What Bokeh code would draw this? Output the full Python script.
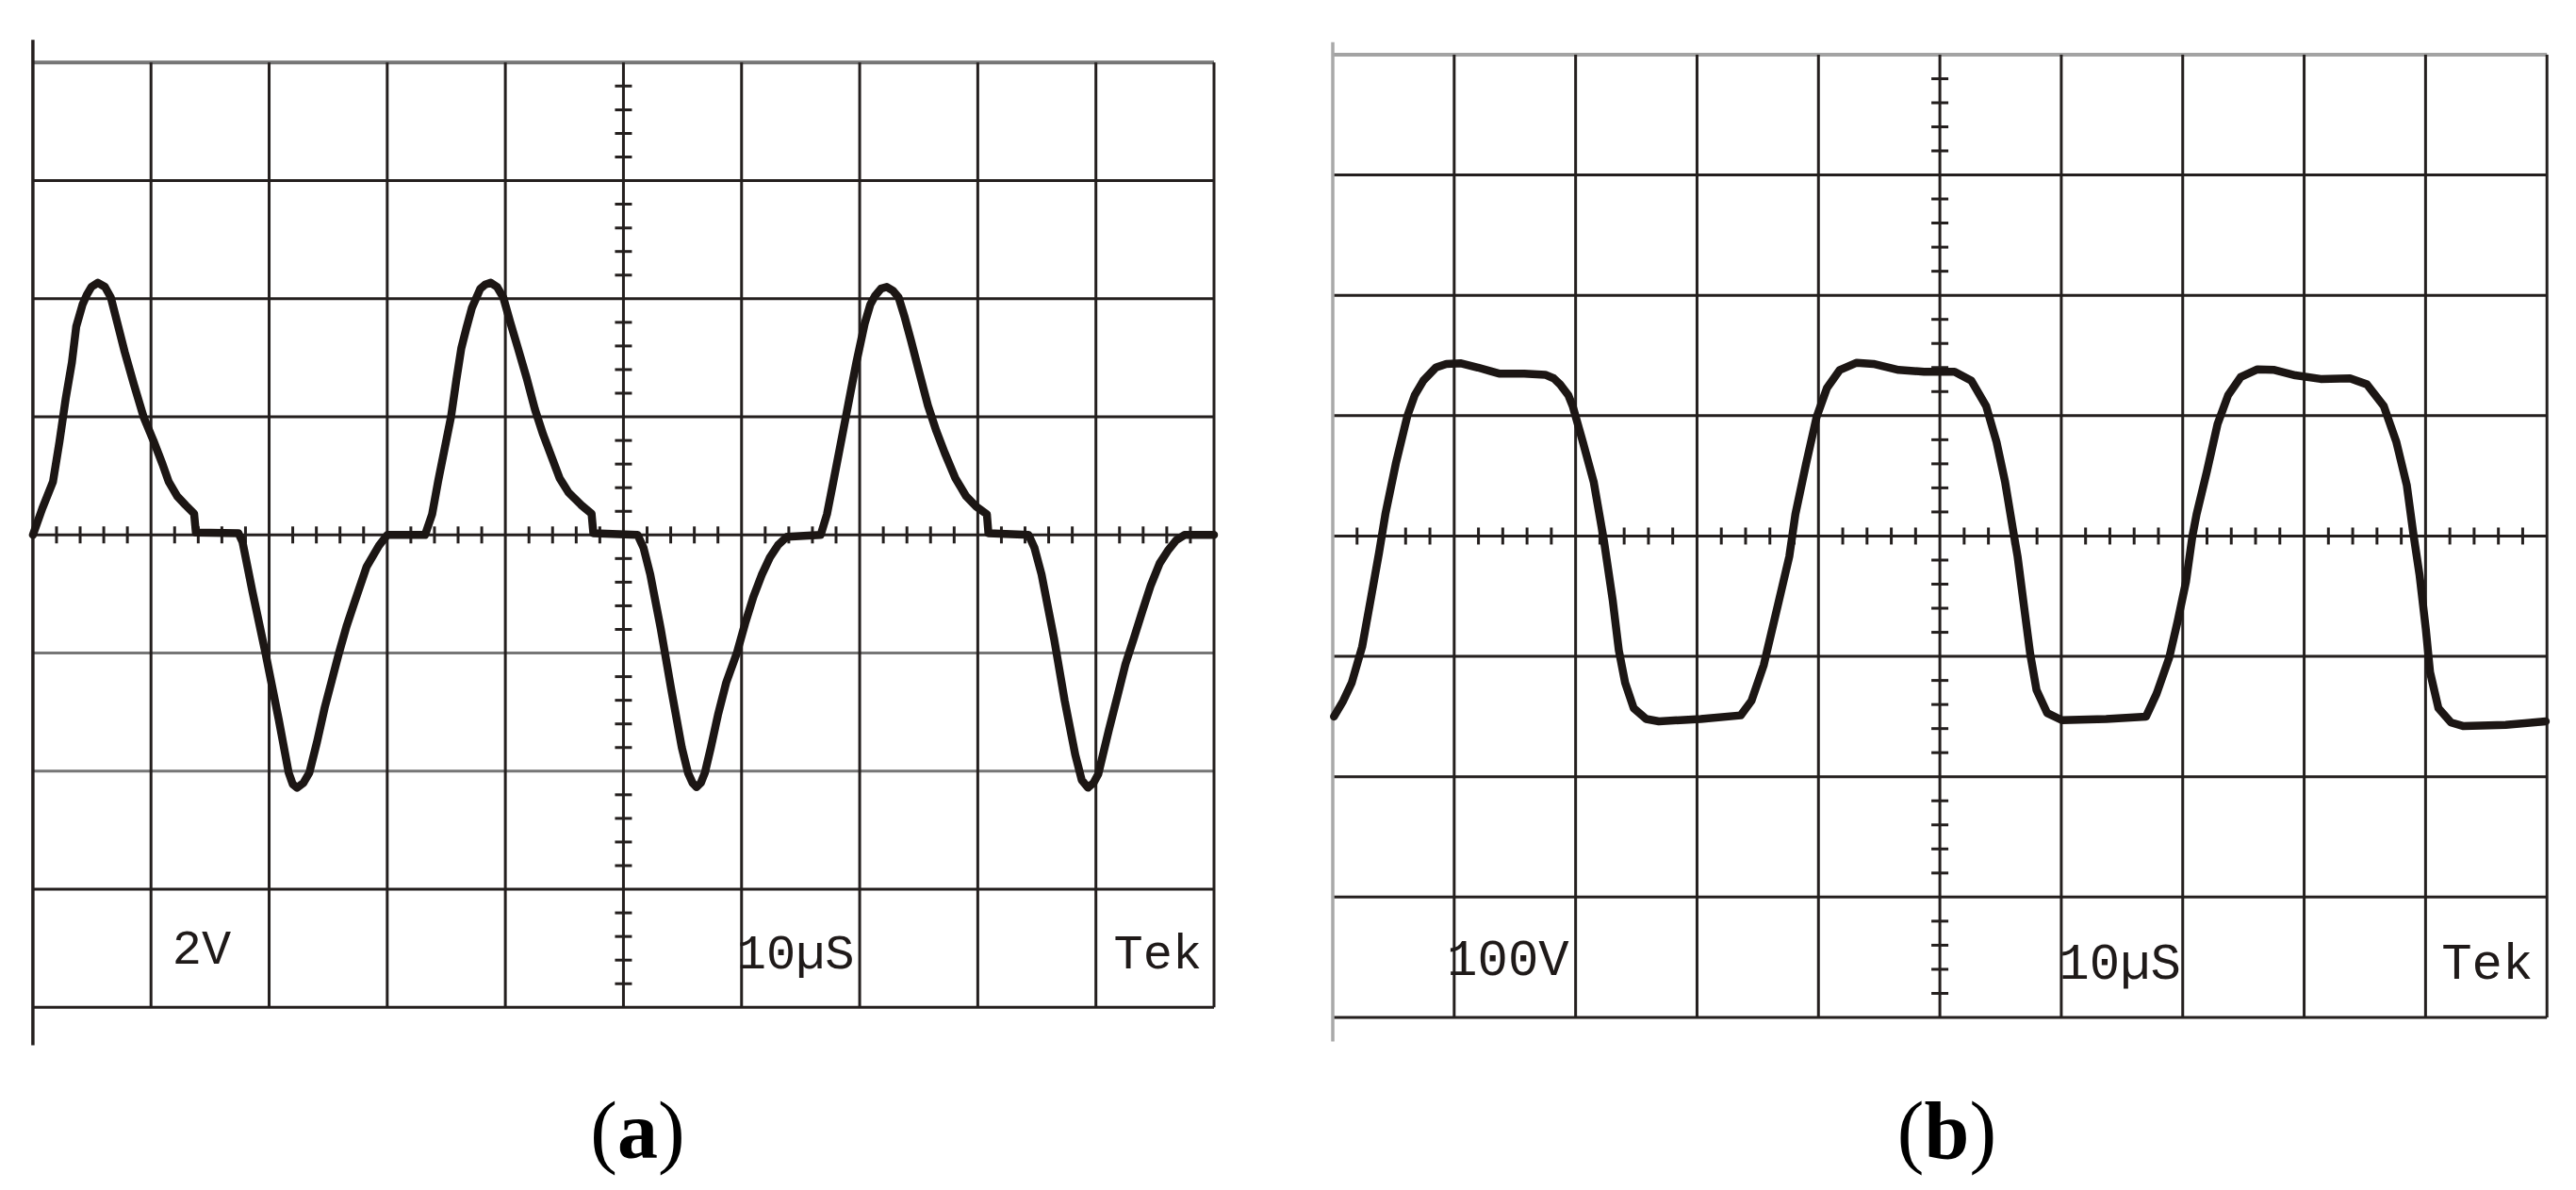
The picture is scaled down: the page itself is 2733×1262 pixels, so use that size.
import math
from bokeh.plotting import figure
from bokeh.layouts import row
from bokeh.models import Range1d
from bokeh.core.properties import value
from bokeh.embed import file_html
from bokeh.resources import INLINE

# ---------------- data ----------------
# panel (a): 2 V/div, 10 us/div  (time in us, voltage in V)
t_a = [0.0, 0.8, 1.7, 2.25, 2.78, 3.3, 3.67, 4.2, 4.6, 4.95, 5.5, 6.1, 6.6, 7.2, 7.77, 8.55,
       9.37, 10.2, 10.97, 11.5, 12.2, 12.95, 13.65, 13.8, 17.4, 17.75, 18.6, 19.7, 20.8, 21.66,
       22.0, 22.37, 22.9, 23.4, 24.05, 24.7, 25.3, 25.9, 26.55, 27.2, 28.25, 29.3, 30.0, 33.2,
       33.8, 34.3, 34.85, 35.4, 35.85, 36.27, 36.7, 37.16, 37.88, 38.3, 38.76, 39.3, 39.83, 40.43,
       41.07, 41.8, 42.5, 43.2, 43.9, 44.6, 45.35, 46.4, 47.3, 47.45, 51.2, 51.7, 52.27, 53.15,
       54.05, 54.94, 55.47, 55.85, 56.19, 56.55, 56.89, 57.4, 58.0, 58.7, 59.6, 60.3, 61.0, 61.7,
       62.4, 63.1, 63.85, 66.7,
       67.23, 67.77, 68.3, 68.83, 69.3, 69.72, 70.44, 70.9, 71.3, 71.8, 72.3, 72.8, 73.3, 73.82,
       74.35, 75.06, 75.78, 76.49, 77.2, 78.1, 79.0, 79.87, 80.77, 80.9, 84.3, 84.8, 85.4, 86.47,
       87.36, 88.25, 88.8, 89.33, 89.8, 90.2, 91.1, 91.8, 92.5, 93.23, 93.95, 94.65, 95.4, 96.08,
       96.8, 97.5, 100.0]
v_a = [0.0, 0.45, 0.9, 1.58, 2.31, 2.92, 3.53, 3.9, 4.08, 4.2, 4.27, 4.2, 4.02, 3.55, 3.1, 2.55,
       2.0, 1.6, 1.2, 0.9, 0.66, 0.5, 0.36, 0.04, 0.03, -0.12, -0.97, -2.01, -3.11, -4.03,
       -4.22, -4.28, -4.2, -4.03, -3.51, -2.93, -2.47, -2.01, -1.55, -1.16, -0.54, -0.18, 0.0, 0.0,
       0.35, 0.9, 1.45, 2.0, 2.62, 3.16, 3.5, 3.84, 4.17, 4.24, 4.27, 4.2, 4.02, 3.59,
       3.16, 2.66, 2.13, 1.7, 1.33, 0.96, 0.72, 0.51, 0.36, 0.03, 0.0, -0.22, -0.67, -1.58,
       -2.62, -3.6, -4.03, -4.2, -4.27, -4.2, -4.03, -3.6, -3.05, -2.5, -2.0, -1.5, -1.05, -0.68,
       -0.38, -0.17, -0.03, 0.0,
       0.35, 0.9, 1.45, 2.0, 2.49, 2.92, 3.59, 3.9, 4.05, 4.17, 4.2, 4.14, 4.02, 3.68,
       3.29, 2.74, 2.19, 1.76, 1.39, 0.96, 0.66, 0.48, 0.35, 0.03, 0.0, -0.22, -0.67, -1.77,
       -2.81, -3.72, -4.15, -4.28, -4.2, -4.05, -3.3, -2.75, -2.19, -1.74, -1.28, -0.85, -0.48, -0.27,
       -0.09, 0.0, 0.0]

# panel (b): 100 V/div, 10 us/div
t_b = [0.1, 0.86, 1.56, 2.42, 3.12, 3.81, 4.33, 5.19, 6.15, 6.75, 7.45, 8.49, 9.35, 10.57,
       11.95, 13.0, 13.69, 15.77, 17.5, 18.2, 18.72, 19.4, 19.76, 20.6, 21.49, 22.18, 22.35,
       23.05, 23.56, 24.08, 24.78, 25.81, 26.86, 30.31, 33.6, 34.48, 35.5, 36.2, 36.9, 37.6,
       38.1, 38.98, 39.85, 40.7, 41.76, 43.15, 44.53, 46.6, 48.7, 51.21, 52.6, 53.81, 54.67,
       55.37, 56.06, 56.4, 56.9, 57.44, 57.96, 58.83, 60.05, 63.7, 66.98, 67.85, 68.89, 69.58,
       70.27, 70.8, 71.14, 72.0, 72.87, 73.74, 74.77, 76.16, 77.55, 79.28, 81.36, 83.78, 85.17,
       86.56, 87.6, 88.46, 88.98, 89.5, 90.02, 90.37, 91.06, 92.1, 93.14, 96.6, 99.9]
v_b = [-150, -137, -122, -92, -53, -14, 18, 60, 100, 117, 129, 140, 143, 143.5,
       140, 137, 135, 135, 134, 131, 126, 117, 108, 78, 45, 5, -5,
       -53, -95, -122, -143, -152, -154, -152, -149, -137, -107, -77, -47, -17,
       18, 60, 99, 123, 138, 144, 143, 138, 136.5, 136.5, 129, 108, 78,
       45, 3, -17, -56, -98, -128, -147, -153, -152, -150, -131, -101, -71,
       -38, 0, 18, 54, 93, 117, 132, 138.5, 138, 133.5, 130.5, 131, 126,
       108, 78, 42, 3, -32, -77, -113, -143, -155, -158, -157, -154]

time_ticks = [0, 10, 20, 30, 40, 50, 60, 70, 80, 90, 100]
volt_ticks_a = [-8, -6, -4, -2, 0, 2, 4, 6, 8]
volt_ticks_b = [-400, -300, -200, -100, 0, 100, 200, 300, 400]
scale_labels_a = ["2V", "10µS", "Tek"]
scale_labels_b = ["100V", "10µS", "Tek"]
caption_letters = ["a", "b"]

# ---------------- styling ----------------
INK = "#1c1614"
GRID = "#241f1e"
PAGE_H = 1254


def make_panel(width, grid_px, times, volts, t_ticks, v_ticks, gray_rows, row_gray,
               edge_color, edge_ext, labels, label_pos, label_size, letter, letter_pos,
               letter_half):
    gl, gr, gt, gb = grid_px  # graticule frame in figure pixels
    t0, t1 = t_ticks[0], t_ticks[-1]
    v0, v1 = v_ticks[0], v_ticks[-1]
    sx = (gr - gl) / (t1 - t0)
    sy = (gb - gt) / (v1 - v0)
    xr = Range1d(t0 - gl / sx, t1 + (width - gr) / sx)
    yr = Range1d(v0 - (PAGE_H - gb) / sy, v1 + gt / sy)
    p = figure(width=width, height=PAGE_H, x_range=xr, y_range=yr, output_backend="svg",
               toolbar_location=None, x_axis_type=None, y_axis_type=None, title=None,
               min_border=0, outline_line_color=None, background_fill_color="white",
               border_fill_color="white")

    # horizontal graticule lines
    hx0, hy0, hx1, hy1, hc, hw = [], [], [], [], [], []
    for v in v_ticks:
        hx0.append(t0); hx1.append(t1); hy0.append(v); hy1.append(v)
        hc.append(row_gray if v in gray_rows else GRID)
        hw.append(4 if v == v1 else 3)
    p.segment(x0=hx0, y0=hy0, x1=hx1, y1=hy1, line_color=hc, line_width=hw)

    # vertical graticule lines
    vx = [t for t in t_ticks[1:]]
    p.segment(x0=vx, y0=[v0] * len(vx), x1=vx, y1=[v1] * len(vx), line_color=GRID, line_width=3)
    # left edge line (extends beyond the graticule)
    p.segment(x0=[t0], y0=[v0 - edge_ext[0] * (v1 - v0)], x1=[t0], y1=[v1 + edge_ext[1] * (v1 - v0)],
              line_color=edge_color, line_width=3.5)

    # minor ticks on centre axes
    tdiv = t_ticks[1] - t_ticks[0]
    vdiv = v_ticks[1] - v_ticks[0]
    tc = (t0 + t1) / 2
    mt = [t0 + k * tdiv / 5 for k in range(1, 5 * (len(t_ticks) - 1)) if k % 5]
    mv = [v0 + k * vdiv / 5 for k in range(1, 5 * (len(v_ticks) - 1)) if k % 5]
    p.scatter(x=mt, y=[0] * len(mt), marker="dash", size=18, angle=math.pi / 2,
              line_color=GRID, line_width=3)
    p.scatter(x=[tc] * len(mv), y=mv, marker="dash", size=18, line_color=GRID, line_width=3)

    # trace
    p.line(times, volts, line_color=INK, line_width=8.5, line_join="round", line_cap="round")

    # on-screen scale labels
    p.text(x=[q[0] for q in label_pos], y=[q[1] for q in label_pos], text=labels,
           text_font=value("Liberation Mono"), text_font_size=value(label_size),
           text_color="#1f1a19", text_align="left", text_baseline="alphabetic")

    # caption "(x)"
    lx, ly = letter_pos
    p.text(x=[lx], y=[ly], text=[letter], text_font=value("Liberation Serif"),
           text_font_style="bold", text_font_size=value("86px"), text_color="black",
           text_align="center", text_baseline="alphabetic")
    p.text(x=[lx], y=[ly], text=["("], x_offset=-letter_half, text_font=value("Liberation Serif"),
           text_font_size=value("86px"), text_color="black", text_align="right",
           text_baseline="alphabetic")
    p.text(x=[lx], y=[ly], text=[")"], x_offset=letter_half, text_font=value("Liberation Serif"),
           text_font_size=value("86px"), text_color="black", text_align="left",
           text_baseline="alphabetic")
    return p


pa = make_panel(
    width=1370, grid_px=(34.4, 1287.5, 65.8, 1067.8),
    times=t_a, volts=v_a, t_ticks=time_ticks, v_ticks=volt_ticks_a,
    gray_rows=[8, -2, -4], row_gray="#767676",
    edge_color=GRID, edge_ext=(0.04, 0.024),
    labels=scale_labels_a, label_pos=[(11.8, -7.05), (59.6, -7.12), (91.5, -7.12)],
    label_size="52px", letter=caption_letters[0], letter_pos=(51.2, -10.08), letter_half=21.5)

pb = make_panel(
    width=1355, grid_px=(43.5, 1331.7, 57.4, 1078.5),
    times=t_b, volts=v_b, t_ticks=time_ticks, v_ticks=volt_ticks_b,
    gray_rows=[400], row_gray="#a3a3a3",
    edge_color="#a9a9a9", edge_ext=(0.025, 0.013),
    labels=scale_labels_b, label_pos=[(9.4, -353.0), (59.8, -356.9), (91.3, -356.9)],
    label_size="54px", letter=caption_letters[1], letter_pos=(50.57, -494.1), letter_half=24.0)

layout = row(pa, pb, spacing=0)
open("out.html", "w").write(file_html(layout, INLINE))
